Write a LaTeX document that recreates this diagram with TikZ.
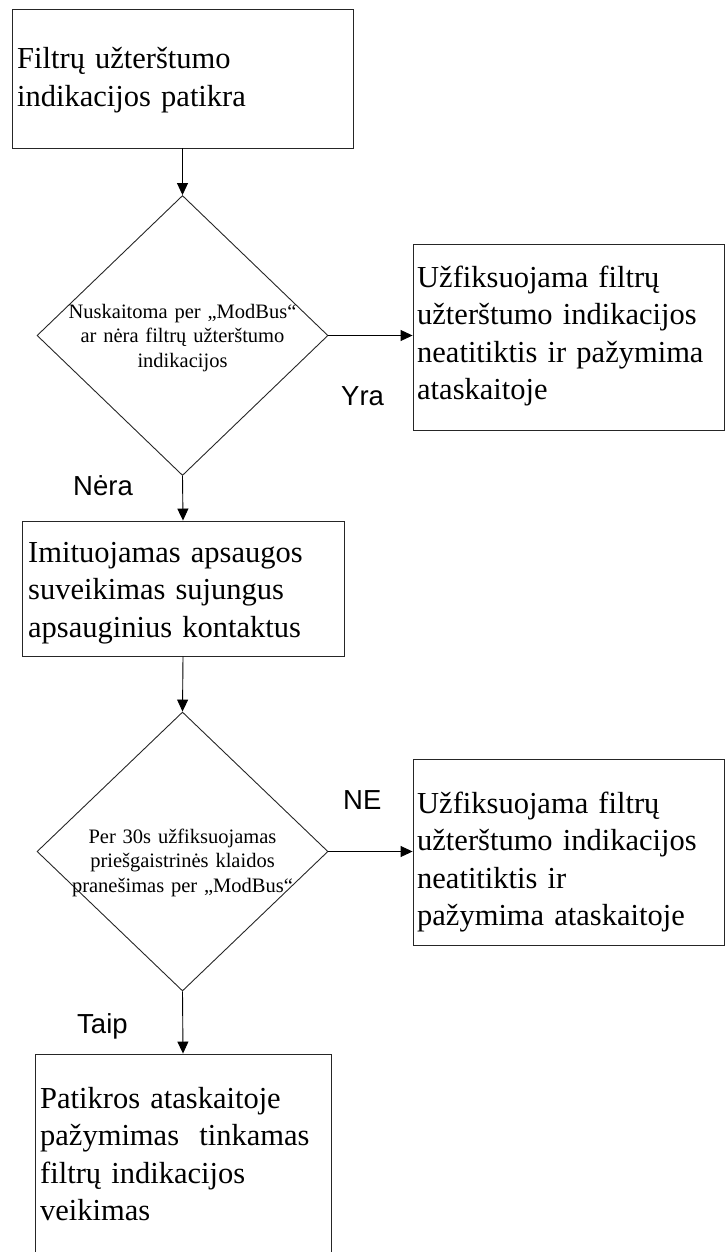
\documentclass[tikz,border=0pt]{standalone}
\usepackage{fontspec}
\setmainfont{Liberation Serif}
\newfontfamily\labelsans{Liberation Sans}
\usetikzlibrary{shapes.geometric,arrows.meta}

\begin{document}
\begin{tikzpicture}[x=1pt,y=-1pt,
  box/.style={draw=black!85, line width=0.9pt, rectangle, inner sep=0pt},
  decision/.style={draw=black!85, line width=0.9pt, diamond, inner sep=0pt},
  boxtext/.style={inner sep=0pt, anchor=base west, align=left, text width=#1,
    font=\fontsize{30.5pt}{37.5pt}\selectfont},
  dectext/.style={inner sep=0pt, anchor=base, align=center, text width=280pt,
    font=\fontsize{20.5pt}{24.5pt}\selectfont},
  answer/.style={inner sep=0pt, anchor=base west,
    font=\labelsans\fontsize{27.5pt}{33pt}\selectfont},
  flow/.style={draw=black, line width=0.9pt, -{Triangle[length=12pt,width=11pt]}}
]
\useasboundingbox (0,0) rectangle (726,1252);
\clip (0,0) rectangle (726,1252);

% start of the check
\node[box, minimum width=341pt, minimum height=139pt] (start) at (182.5,78.5) {};
\node[boxtext=330pt] (startT) at (17,69) {Filtrų užterštumo\\indikacijos patikra};

% first decision: contamination indication over ModBus
\node[decision, minimum width=291pt, minimum height=280pt] (q1) at (182.5,335.5) {};
\node[dectext] (q1T) at (182.5,318) {Nuskaitoma per „ModBus“\\ar nėra filtrų užterštumo\\indikacijos};

\node[box, minimum width=311pt, minimum height=186pt] (fault1) at (568.5,337) {};
\node[boxtext=300pt] (fault1T) at (417,287) {Užfiksuojama filtrų\\užterštumo indikacijos\\neatitiktis ir pažymima\\ataskaitoje};

% simulated protection trip
\node[box, minimum width=322pt, minimum height=135pt] (sim) at (183,588.5) {};
\node[boxtext=310pt] (simT) at (28,562) {Imituojamas apsaugos\\suveikimas sujungus\\apsauginius kontaktus};

% second decision: fire alarm message within 30 s
\node[decision, minimum width=291pt, minimum height=279pt] (q2) at (182.5,851.5) {};
\node[dectext] (q2T) at (182.5,843) {Per 30s užfiksuojamas\\priešgaistrinės klaidos\\pranešimas per „ModBus“};

\node[box, minimum width=311pt, minimum height=186pt] (fault2) at (568.5,852) {};
\node[boxtext=300pt] (fault2T) at (417,813) {Užfiksuojama filtrų\\užterštumo indikacijos\\neatitiktis ir\\pažymima ataskaitoje};

% successful result
\node[box, minimum width=296pt, minimum height=204pt] (ok) at (183,1156) {};
\node[boxtext=290pt] (okT) at (40,1108) {Patikros ataskaitoje\\pažymimas\ \ tinkamas\\filtrų indikacijos\\veikimas};

% branch answers
\node[answer] (ansYra) at (341,405) {Yra};
\node[answer] (ansNera) at (73,495) {Nėra};
\node[answer] (ansNE) at (343,809) {NE};
\node[answer] (ansTaip) at (77,1033) {Taip};

% connectors
\draw[flow] (start.south) -- (q1.north);
\draw[flow] (q1.east) -- (q1.east -| fault1.west);
\draw[flow] (q1.south) -- (sim.north);
\draw[flow] (sim.south) -- (q2.north);
\draw[flow] (q2.east) -- (q2.east -| fault2.west);
\draw[flow] (q2.south) -- (ok.north);
\end{tikzpicture}
\end{document}
